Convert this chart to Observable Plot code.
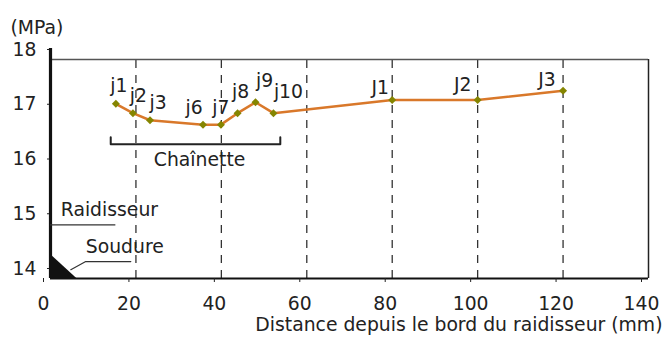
<!DOCTYPE html>
<html>
<head>
<meta charset="utf-8">
<script src="https://cdn.jsdelivr.net/npm/d3@7"></script>
<script src="https://cdn.jsdelivr.net/npm/@observablehq/plot@0.6"></script>
<style>
  html, body { margin: 0; padding: 0; background: #fff; }
</style>
</head>
<body>
<div id="chart"></div>
<script>
// ---- data ----
const pointNames = ["j1", "j2", "j3", "j6", "j7", "j8", "j9", "j10", "J1", "J2", "J3"];
const distances  = [15.3, 19.3, 23.3, 35.7, 39.9, 43.8, 48.0, 52.2, 80, 100, 120];
const stresses   = [17.19, 17.02, 16.89, 16.81, 16.81, 17.02, 17.22, 17.02, 17.26, 17.26, 17.43];
const xTicks = [0, 20, 40, 60, 80, 100, 120, 140];
const yTicks = [14, 15, 16, 17, 18];
const gridLines = [20, 40, 60, 80, 100, 120];
const yUnit = "(MPa)";
const xTitle = "Distance depuis le bord du raidisseur (mm)";
const stiffenerLabel = "Raidisseur";
const weldLabel = "Soudure";
const chainLabel = "Chaînette";

// ---- annotation geometry (data units) ----
const stiffenerLine = {x1: 0, x2: 15.3, y: 14.98};
const stiffenerText = {x: 2.4, y: 15.26};
const weldText = {x: 8.25, y: 14.57};
const weldLeader = [{x: 4.75, y: 14.16}, {x: 8.25, y: 14.31}, {x: 18.8, y: 14.31}];
const weldTriangle = [{x: 0, y: 14.44}, {x: 6.15, y: 14}];
const bracket = [{x: 14.1, y: 16.58}, {x: 14.1, y: 16.45}, {x: 53.8, y: 16.45}, {x: 53.8, y: 16.58}];
const chainText = {x: 34.9, y: 16.16};

// label offsets (pixels) for point names
const labelOffsets = [[3,-18],[5.5,-17],[8,-17],[-9,-17],[0,-17],[3,-21],[9,-21],[15,-21],[-12,-12],[-15,-15],[-16,-10.5]];

const data = pointNames.map((n, i) => ({name: n, x: distances[i], y: stresses[i]}));

const FONT = "DejaVu Sans";
const ink = "#222";
const FS = 18.8;

const labelMarks = data.map((d, i) => Plot.text([d], {
  x: "x", y: "y", text: "name",
  dx: labelOffsets[i][0], dy: labelOffsets[i][1],
  fill: ink, fontSize: FS
}));

const plot = Plot.plot({
  width: 665,
  height: 342,
  marginLeft: 50,
  marginRight: 17,
  marginTop: 59,
  marginBottom: 64,
  style: {fontFamily: FONT, fontSize: FS + "px", color: ink, background: "#fff", overflow: "visible"},
  x: {domain: [0, 140]},
  y: {domain: [14, 18]},
  marks: [
    // dashed verticals
    Plot.ruleX(gridLines, {y1: 14, y2: 18, stroke: "#333", strokeWidth: 1.3, strokeDasharray: "8,7"}),
    // frame
    Plot.ruleY([18], {x1: 0, x2: 140, stroke: "#555", strokeWidth: 1.5}),
    Plot.ruleX([140], {y1: 14, y2: 18, stroke: "#222", strokeWidth: 1.5}),
    Plot.ruleY([14], {x1: 0, x2: 140, stroke: "#111", strokeWidth: 2.2}),
    // axes
    Plot.axisY(yTicks, {tickSize: 3, tickPadding: 11, dy: -10, fontSize: FS, label: null, stroke: ink, tickFormat: d3.format("d")}),
    Plot.axisX(xTicks, {tickSize: 4, tickPadding: 14, dx: -7, fontSize: FS, label: null, stroke: ink, tickFormat: d3.format("d")}),
    Plot.ruleX([0], {y1: 14, y2: 18.2, stroke: "#111", strokeWidth: 3.2}),
    // weld & stiffener annotation
    Plot.areaY(weldTriangle, {x: "x", y1: 14, y2: "y", fill: "#111"}),
    Plot.ruleY([stiffenerLine.y], {x1: stiffenerLine.x1, x2: stiffenerLine.x2, stroke: "#333", strokeWidth: 1.2}),
    Plot.line(weldLeader, {x: "x", y: "y", stroke: "#333", strokeWidth: 1.2}),
    Plot.text([stiffenerLabel], {x: stiffenerText.x, y: stiffenerText.y, text: d => d, textAnchor: "start", fill: ink, fontSize: FS}),
    Plot.text([weldLabel], {x: weldText.x, y: weldText.y, text: d => d, textAnchor: "start", fill: ink, fontSize: FS}),
    // bracket
    Plot.line(bracket, {x: "x", y: "y", stroke: "#222", strokeWidth: 2}),
    Plot.text([chainLabel], {x: chainText.x, y: chainText.y, text: d => d, fill: ink, fontSize: FS}),
    // data
    Plot.line(data, {x: "x", y: "y", stroke: "#d9782a", strokeWidth: 2.5}),
    Plot.dot(data, {x: "x", y: "y", symbol: "diamond2", r: 3.6, fill: "#858500", stroke: "none"}),
    ...labelMarks,
    // titles
    Plot.text([yUnit], {frameAnchor: "top-left", dx: -40, dy: -39, textAnchor: "start", text: d => d, fill: ink, fontSize: FS}),
    Plot.text([xTitle], {frameAnchor: "bottom-right", dx: 14, dy: 52, textAnchor: "end", text: d => d, fill: ink, fontSize: FS})
  ]
});
document.getElementById("chart").appendChild(plot);
</script>
</body>
</html>
